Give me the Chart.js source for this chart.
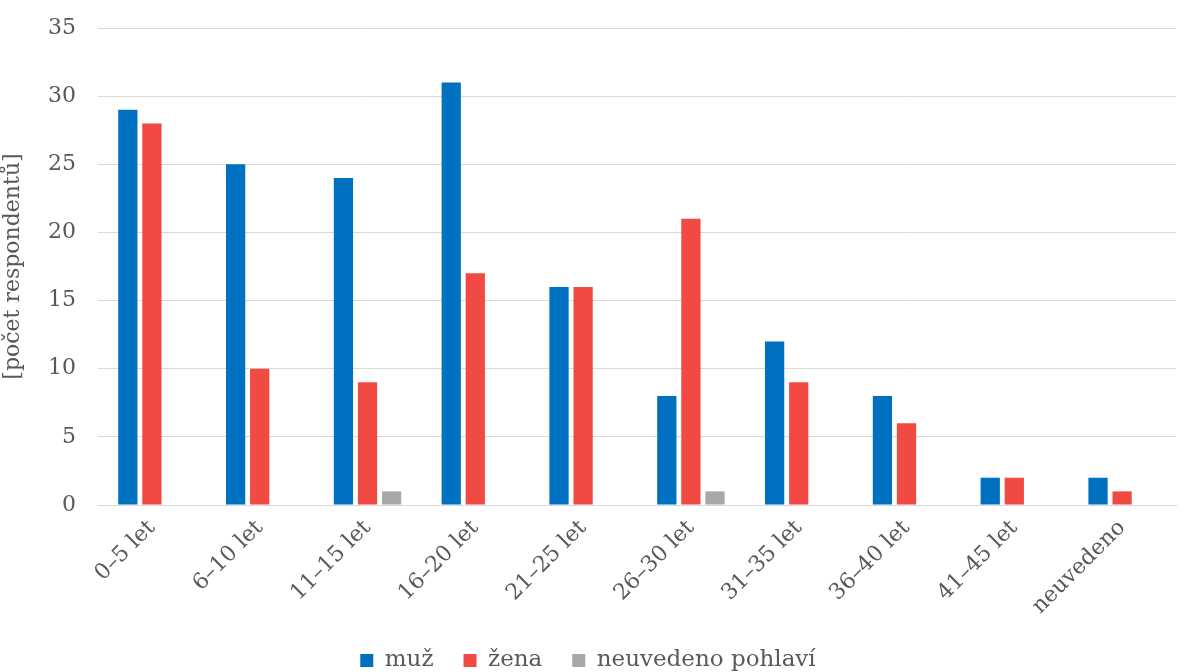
<!DOCTYPE html>
<html>
<head>
<meta charset="utf-8">
<script src="https://cdn.jsdelivr.net/npm/chart.js@4/dist/chart.umd.min.js"></script>
<style>
  html, body { margin: 0; padding: 0; background: #fff; }
  #wrap { width: 1194px; height: 672px; }
</style>
</head>
<body>
<div id="wrap"><canvas id="ageChart" width="1194" height="672"></canvas></div>
<script>
// Data
const categories = ["0–5 let", "6–10 let", "11–15 let", "16–20 let", "21–25 let", "26–30 let", "31–35 let", "36–40 let", "41–45 let", "neuvedeno"];
const muz = [29, 25, 24, 31, 16, 8, 12, 8, 2, 2];
const zena = [28, 10, 9, 17, 16, 21, 9, 6, 2, 1];
const neuvedeno = [0, 0, 1, 0, 0, 1, 0, 0, 0, 0];
const yTicks = [0, 5, 10, 15, 20, 25, 30, 35];

const FONT = "'DejaVu Serif', 'Liberation Serif', serif";
const TEXT = "#595959";

function initAgeChart() {
  const ctx = document.getElementById("ageChart").getContext("2d");
  new Chart(ctx, {
    type: "bar",
    data: {
      labels: categories,
      datasets: [
        { label: "muž", data: muz, backgroundColor: "#0070C0" },
        { label: "žena", data: zena, backgroundColor: "#F04A42" },
        { label: "neuvedeno pohlaví", data: neuvedeno, backgroundColor: "#A9A7A7" }
      ]
    },
    options: {
      responsive: false,
      animation: false,
      categoryPercentage: 0.67,
      barPercentage: 0.8,
      layout: { padding: { top: 28, right: 18, left: 0, bottom: -10 } },
      scales: {
        x: {
          grid: { display: false, drawTicks: false },
          border: { color: "#D9D9D9", width: 1 },
          afterFit: function(axis) { axis.height = 114; },
          ticks: {
            color: TEXT,
            font: { family: FONT, size: 22 },
            minRotation: 45,
            maxRotation: 45,
            padding: 10
          }
        },
        y: {
          min: 0,
          max: 35,
          afterBuildTicks: function(axis) {
            axis.ticks = yTicks.map(v => ({ value: v }));
          },
          afterFit: function(axis) {
            axis.width = 98;
            axis.paddingTop = 0;
            axis.paddingBottom = 0;
          },
          grid: { color: "#D9D9D9", lineWidth: 1, drawTicks: false },
          border: { display: false },
          ticks: {
            color: TEXT,
            font: { family: FONT, size: 22 },
            padding: 22
          },
          title: {
            display: true,
            text: "[počet respondentů]",
            color: TEXT,
            font: { family: FONT, size: 22 },
            padding: { top: 0, bottom: 0 }
          }
        }
      },
      plugins: {
        legend: {
          position: "bottom",
          labels: {
            color: TEXT,
            font: { family: FONT, size: 23 },
            boxWidth: 13,
            boxHeight: 13,
            padding: 30
          }
        },
        tooltip: { enabled: false }
      }
    }
  });
}

document.addEventListener("DOMContentLoaded", initAgeChart);
</script>
</body>
</html>
